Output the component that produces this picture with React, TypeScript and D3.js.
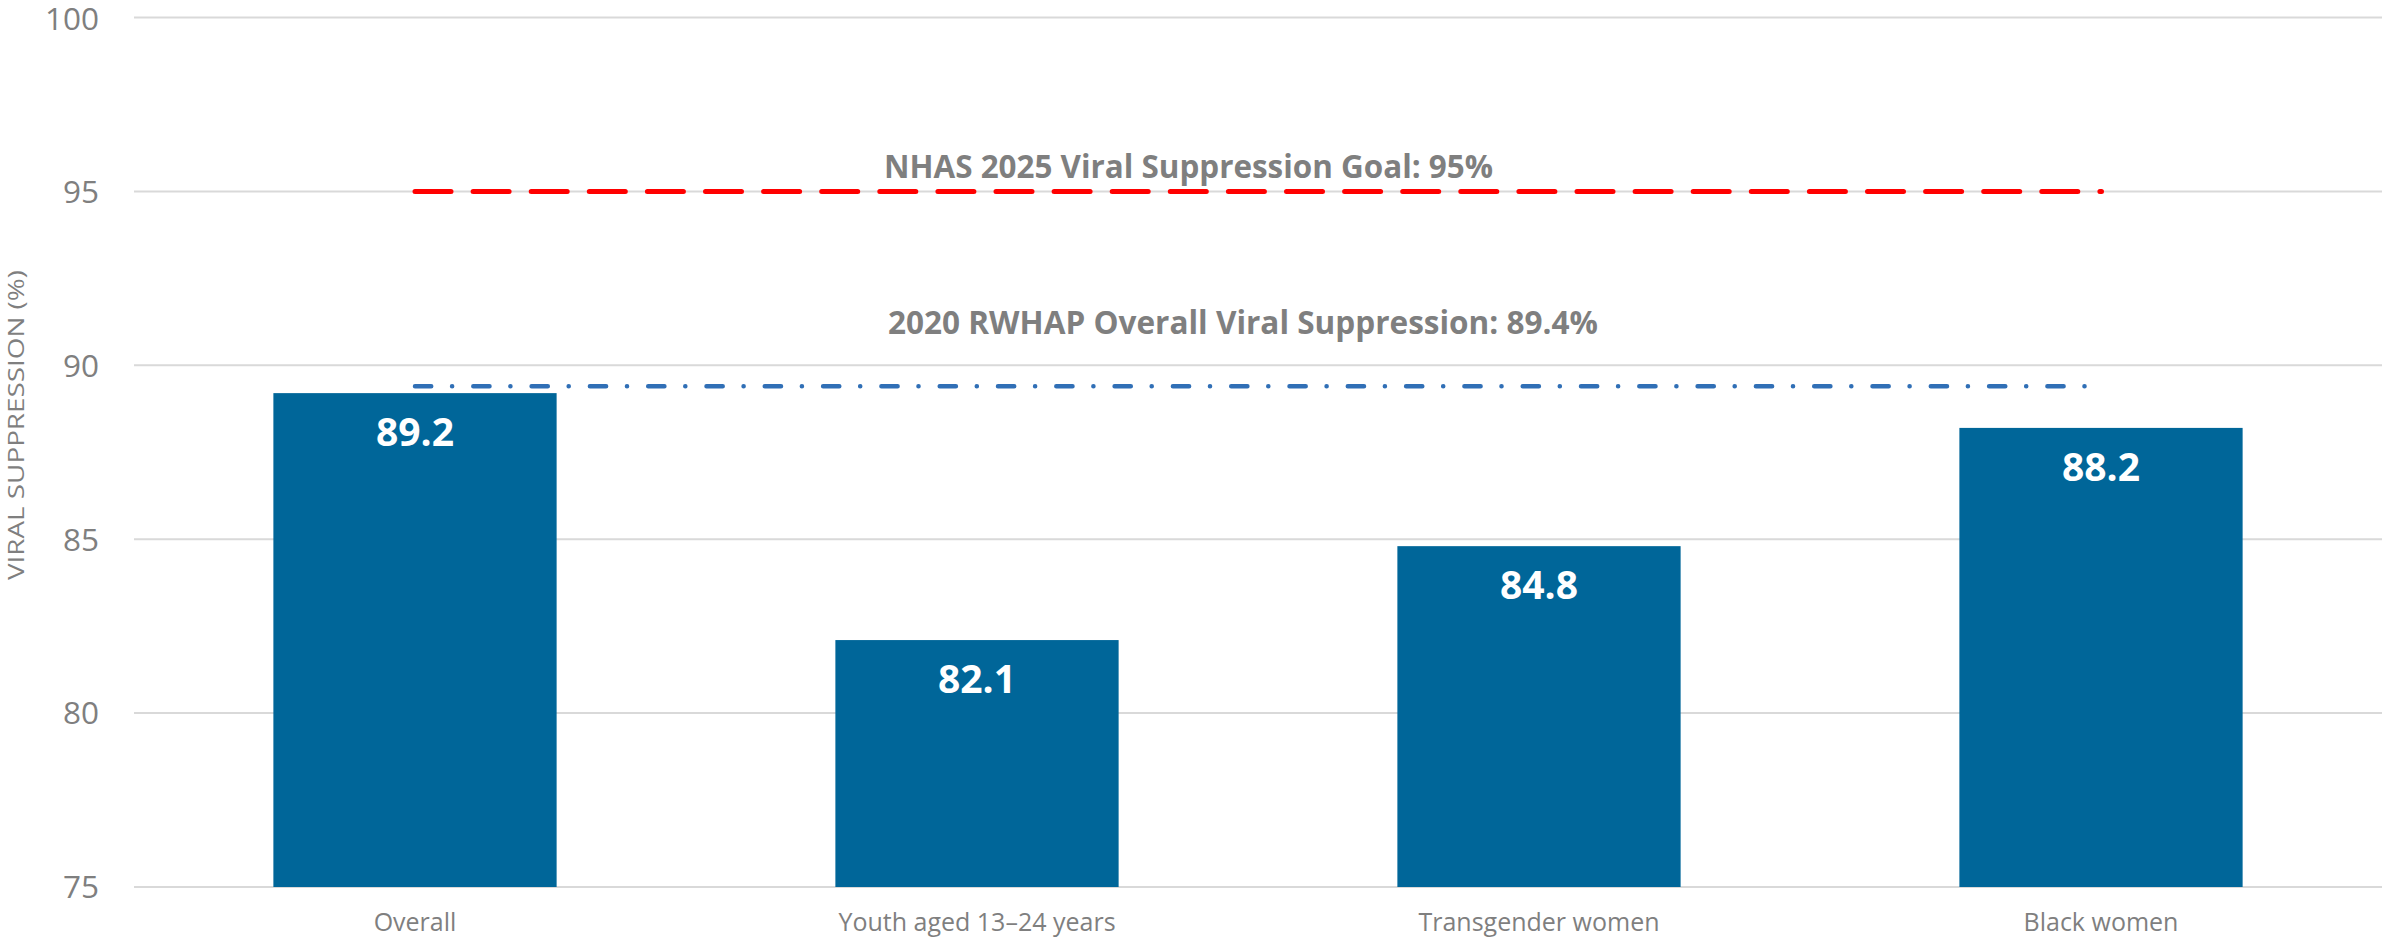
import React, { useEffect } from "react";
import * as d3 from "d3";

// Chart values
const categories = ["Overall", "Youth aged 13–24 years", "Transgender women", "Black women"];
const suppression = [89.2, 82.1, 84.8, 88.2];
const yTicks = [75, 80, 85, 90, 95, 100];

const goalValue = 95;
const goalLabel = "NHAS 2025 Viral Suppression Goal: 95%";
const overallValue = 89.4;
const overallLabel = "2020 RWHAP Overall Viral Suppression: 89.4%";
const yTitle = "VIRAL SUPPRESSION (%)";

const width = 2382, height = 939;
const margin = {top: 17.5, right: 0, bottom: 52, left: 134};

const font = "'Open Sans', 'Noto Sans', sans-serif";
const gray = "#7f7f7f";
const barColor = "#006699";

export default function App() {
    useEffect(() => {
        document.body.style.margin = "0";
    }, []);

    // Scales
    const x = d3.scaleBand()
        .domain(categories)
        .range([margin.left, width - margin.right])
        .paddingInner(0.496)
        .paddingOuter(0.248);

    const y = d3.scaleLinear()
        .domain([75, 100])
        .range([height - margin.bottom, margin.top]);

    const first = x(categories[0]) + x.bandwidth() / 2;
    const last = x(categories[categories.length - 1]) + x.bandwidth() / 2;

    return (
        <svg width={width} height={height} style={{display: "block", fontFamily: font}}>
            {/* gridlines + y tick labels */}
            <g>
                {yTicks.map(t => (
                    <g key={t}>
                        <line x1={margin.left} x2={width - margin.right} y1={y(t)} y2={y(t)}
                              stroke="#d9d9d9" strokeWidth={2} />
                        <text x={99} y={Math.max(y(t), 19)} dy="0.36em" textAnchor="end" fontSize={31.5} fill={gray}>
                            {t}
                        </text>
                    </g>
                ))}
            </g>

            {/* axis title */}
            <text transform={`translate(24, 425) rotate(-90)`} textAnchor="middle" fontSize={21}
                  fill={gray} textLength={310} lengthAdjust="spacingAndGlyphs">
                {yTitle}
            </text>

            {/* bars */}
            <g>
                {categories.map((c, i) => (
                    <rect key={c} x={x(c)} y={y(suppression[i])} width={x.bandwidth()}
                          height={y(75) - y(suppression[i])} fill={barColor} />
                ))}
            </g>

            {/* bar value labels */}
            <g>
                {categories.map((c, i) => (
                    <text key={c} x={x(c) + x.bandwidth() / 2} y={y(suppression[i]) + 53}
                          textAnchor="middle" fontSize={39} fontWeight="bold" fill="#ffffff">
                        {suppression[i].toFixed(1)}
                    </text>
                ))}
            </g>

            {/* x labels */}
            <g>
                {categories.map(c => (
                    <text key={c} x={x(c) + x.bandwidth() / 2} y={931} textAnchor="middle"
                          fontSize={25} fill={gray}>
                        {c}
                    </text>
                ))}
            </g>

            {/* reference lines */}
            <line x1={first} x2={last + 0.5} y1={y(goalValue)} y2={y(goalValue)}
                  stroke="#ff0000" strokeWidth={5} strokeLinecap="round" strokeDasharray="36 22.1" />
            <line x1={first} x2={last} y1={y(overallValue)} y2={y(overallValue)}
                  stroke="#306fb6" strokeWidth={4.5} strokeLinecap="round"
                  strokeDasharray="16.2 20.85 0.1 21.15" />

            {/* reference line labels */}
            <text x={884} y={178} fontSize={32} fontWeight="bold" fill={gray}
                  textLength={609} lengthAdjust="spacingAndGlyphs">
                {goalLabel}
            </text>
            <text x={888} y={334} fontSize={32} fontWeight="bold" fill={gray}
                  textLength={710} lengthAdjust="spacingAndGlyphs">
                {overallLabel}
            </text>
        </svg>
    );
}
